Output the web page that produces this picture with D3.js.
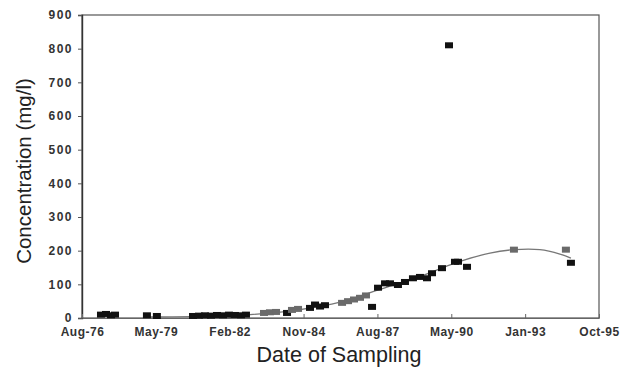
<!DOCTYPE html>
<html><head><meta charset="utf-8">
<script src="https://cdn.jsdelivr.net/npm/d3@7"></script>
<style>body{margin:0;background:#fff}svg{display:block}</style>
</head><body>
<svg id="c" width="622" height="373"></svg>
<script>
// Data
const pointDates = ["1977-05-12","1977-07-19","1977-09-25","1977-11-18","1979-01-24","1979-06-08",
 "1980-10-09","1980-12-29","1981-03-20","1981-06-10","1981-08-30","1981-11-19","1982-02-08","1982-04-30","1982-07-21","1982-09-26",
 "1983-05-28","1983-08-17","1983-11-07","1984-04-04","1984-06-10","1984-08-31",
 "1985-02-09","1985-04-18","1985-06-25","1985-08-31",
 "1986-04-19","1986-07-09","1986-09-28","1986-12-18","1987-03-09",
 "1987-05-30","1987-08-19","1987-11-22","1988-01-28","1988-05-15","1988-08-18","1988-12-04","1989-03-09","1989-06-12","1989-08-19","1990-01-01",
 "1990-04-06","1990-06-26","1990-08-06","1990-12-06","1992-09-01","1994-08-06","1994-10-13"];
const pointValues = [10,12,8,10,8,6,
 6,7,8,7,9,8,10,9,8,10,
 15,17,18,15,24,27,
 30,40,34,38,
 45,50,55,60,67,
 33,90,103,103,98,107,118,122,118,133,148,
 810,167,167,152,203,203,164];
const pointShade = ["k","k","k","k","k","k",
 "k","k","k","k","k","k","k","k","k","k",
 "g","g","g","k","g","g",
 "k","k","k","k",
 "g","g","g","g","g",
 "k","k","k","k","k","k","k","k","k","k","k",
 "k","k","k","k","g","g","k"];
const trendDates = ["1979-03-05","1981-01-12","1982-11-20","1984-09-27","1986-03-23","1987-09-15","1989-03-09","1990-06-26","1991-10-13","1992-09-01","1993-08-19","1994-05-17","1994-10-13"];
const trendValues = [3,5,10,25,47,85,123,163,193,203,203,190,178];
const xTickDates = ["1976-08-28","1979-05-25","1982-02-18","1984-11-14","1987-08-11","1990-05-07","1993-01-31","1995-10-28"];
const xTickLabels = ["Aug-76","May-79","Feb-82","Nov-84","Aug-87","May-90","Jan-93","Oct-95"];
const yTicks = [0,100,200,300,400,500,600,700,800,900];

const parse = d3.timeParse("%Y-%m-%d");
const svg = d3.select("#c");
const L=82, R=599, T=15, B=318;
const x = d3.scaleTime().domain([parse(xTickDates[0]), parse(xTickDates[xTickDates.length-1])]).range([L,R]);
const y = d3.scaleLinear().domain([0,900]).range([B,T]);

const tickFont = "'Liberation Sans', Arial, sans-serif";

// frame
svg.append("rect").attr("x",L).attr("y",T).attr("width",R-L).attr("height",B-T)
  .attr("fill","none").attr("stroke","#555").attr("stroke-width",1.2);

// y axis
const ya = svg.append("g").attr("transform",`translate(${L},0)`)
  .call(d3.axisLeft(y).tickValues(yTicks).tickSize(4).tickPadding(5));
ya.select(".domain").attr("stroke","#333").attr("stroke-width",1.4);
ya.selectAll(".tick line").attr("stroke","#555");
ya.selectAll("text").attr("font-family",tickFont).attr("font-weight","bold").attr("font-size",12).attr("letter-spacing",1.5).attr("fill","#333");

// x axis
const xa = svg.append("g").attr("transform",`translate(0,${B})`)
  .call(d3.axisBottom(x).tickValues(xTickDates.map(parse)).tickFormat((d,i)=>xTickLabels[i]).tickSizeInner(-4).tickSizeOuter(0).tickPadding(9));
xa.select(".domain").attr("stroke","#666").attr("stroke-width",1.2);
xa.selectAll(".tick line").attr("stroke","#666");
xa.selectAll("text").attr("font-family",tickFont).attr("font-weight","bold").attr("font-size",12).attr("letter-spacing",0.5).attr("fill","#333");

// trend line
const trend = trendDates.map((d,i)=>({d:parse(d),v:trendValues[i]}));
svg.append("path").datum(trend)
  .attr("d",d3.line().x(p=>x(p.d)).y(p=>y(p.v)).curve(d3.curveCatmullRom))
  .attr("fill","none").attr("stroke","#777").attr("stroke-width",1.3);

// points
const pts = pointDates.map((d,i)=>({d:parse(d),v:pointValues[i],s:pointShade[i]}));
svg.append("g").selectAll("rect").data(pts).join("rect")
  .attr("x",p=>x(p.d)-4).attr("y",p=>y(p.v)-3).attr("width",8).attr("height",6)
  .attr("fill",p=>p.s==="g"?"#6a6a6a":"#111");

// titles
svg.append("text").attr("x",339).attr("y",362).attr("text-anchor","middle")
  .attr("font-family",tickFont).attr("font-size",21.5).attr("fill","#222").text("Date of Sampling");
svg.append("text").attr("transform","translate(31,171) rotate(-90)").attr("text-anchor","middle")
  .attr("font-family",tickFont).attr("font-size",20.5).attr("fill","#222").text("Concentration (mg/l)");
</script>
</body></html>
